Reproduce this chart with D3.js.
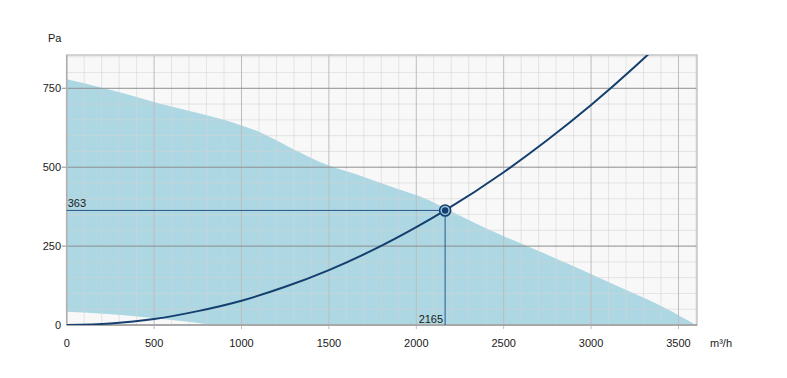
<!DOCTYPE html>
<html><head><meta charset="utf-8">
<script src="https://cdn.jsdelivr.net/npm/d3@7"></script>
<style>body{margin:0;background:#fff}svg{display:block}text{font-family:"Liberation Sans",Arial,sans-serif;font-size:11px;fill:#1a1a1a}</style>
</head><body>
<svg id="c" width="787" height="378"></svg>
<script>
// Data
const xTicks = [0, 500, 1000, 1500, 2000, 2500, 3000, 3500];
const yTicks = [0, 250, 500, 750];
const xUnit = "m³/h";
const yUnit = "Pa";
// Upper boundary of fan working range [Q, Pa]
const upperQ = [0, 100, 270, 530, 750, 950, 1100, 1280, 1500, 1680, 1850, 2080, 2190, 2420, 2710, 2990, 3240, 3420, 3600];
const upperP = [779, 766, 742, 702, 672, 642, 612, 562, 505, 473, 440, 394, 363, 301, 232, 164, 101, 55, 0];
// Lower boundary of working range
const lowerQ = [0, 120, 315, 505, 695, 840];
const lowerP = [42, 39, 32, 21, 10, 0];
// System curve [Q, Pa]
const sysQ = [0, 250, 500, 750, 1000, 1250, 1500, 1750, 2000, 2165, 2500, 2750, 3000, 3250, 3330];
const sysP = [0, 5, 19, 44, 77, 121, 174, 237, 310, 363, 484, 586, 697, 818, 859];
// Operating point
const opQ = 2165, opP = 363;

const svg = d3.select("#c");
const L = 66.7, R = 697, T = 55, B = 325;
const x = d3.scaleLinear().domain([0, 3606]).range([L, R]);
const y = d3.scaleLinear().domain([0, 855.5]).range([B, T]);

svg.append("rect").attr("x", L).attr("y", T).attr("width", R - L).attr("height", B - T).attr("fill", "#f8f8f8");

// area
const upper = upperQ.map((q, i) => [q, upperP[i]]);
const lower = lowerQ.map((q, i) => [q, lowerP[i]]).reverse();
const ln = d3.line().curve(d3.curveMonotoneX).x(d => x(d[0])).y(d => y(d[1]));
const lnR = d3.line().curve(d3.curveLinear).x(d => x(d[0])).y(d => y(d[1]));
svg.append("path")
  .attr("d", ln(upper) + "L" + lnR(lower).slice(1) + "Z")
  .attr("fill", "#add8e3");

// minor grid
const g = svg.append("g");
const xMinor = d3.range(100, 3606, 100).filter(v => v % 500 !== 0);
const yMinor = d3.range(50, 855, 50).filter(v => v % 250 !== 0);
g.selectAll(".xm").data(xMinor).join("line")
  .attr("x1", d => x(d)).attr("x2", d => x(d)).attr("y1", T).attr("y2", B)
  .attr("stroke", "#d4d4d4").attr("stroke-opacity", 0.55).attr("stroke-width", 1);
g.selectAll(".ym").data(yMinor).join("line")
  .attr("x1", L).attr("x2", R).attr("y1", d => y(d)).attr("y2", d => y(d))
  .attr("stroke", "#d4d4d4").attr("stroke-opacity", 0.55).attr("stroke-width", 1);
// major grid
g.selectAll(".xM").data(xTicks.slice(1)).join("line")
  .attr("x1", d => x(d)).attr("x2", d => x(d)).attr("y1", T).attr("y2", B + 4)
  .attr("stroke", "#bdbdbd").attr("stroke-width", 1);
g.selectAll(".yM").data(yTicks.slice(1)).join("line")
  .attr("x1", L - 5).attr("x2", R).attr("y1", d => y(d)).attr("y2", d => y(d))
  .attr("stroke", "#8e8e8e").attr("stroke-width", 1);

// border
svg.append("rect").attr("x", L).attr("y", T).attr("width", R - L).attr("height", B - T)
  .attr("fill", "none").attr("stroke", "#c4c4c4").attr("stroke-width", 1.5);
svg.append("line").attr("x1", L).attr("x2", R).attr("y1", B).attr("y2", B).attr("stroke", "#a8a8a8").attr("stroke-width", 2);
svg.append("line").attr("x1", L).attr("x2", L).attr("y1", T).attr("y2", B).attr("stroke", "#b0b0b0").attr("stroke-width", 1.5);

// axes labels
svg.selectAll(".xl").data(xTicks).join("text")
  .attr("x", d => x(d)).attr("y", 347).attr("text-anchor", "middle").text(d => d);
svg.selectAll(".yl").data(yTicks).join("text")
  .attr("x", 61).attr("y", d => y(d) + 4).attr("text-anchor", "end").text(d => d);
svg.append("text").attr("x", 710).attr("y", 347).text(xUnit);
svg.append("text").attr("x", 48).attr("y", 42).text(yUnit);

// clip
svg.append("clipPath").attr("id", "clp").append("rect")
  .attr("x", L).attr("y", T).attr("width", R - L).attr("height", B - T);

// system curve
const sys = sysQ.map((q, i) => [q, sysP[i]]);
svg.append("path").attr("clip-path", "url(#clp)")
  .attr("d", ln(sys))
  .attr("fill", "none").attr("stroke", "#143f6e").attr("stroke-width", 2);

// operating point lines
const opC = "#2b5788";
svg.append("line").attr("x1", L).attr("x2", x(opQ)).attr("y1", y(opP)).attr("y2", y(opP))
  .attr("stroke", opC).attr("stroke-width", 1);
svg.append("line").attr("x1", x(opQ)).attr("x2", x(opQ)).attr("y1", y(opP)).attr("y2", B)
  .attr("stroke", opC).attr("stroke-width", 1);
svg.append("text").attr("x", L + 1).attr("y", y(opP) - 3).text(opP);
svg.append("text").attr("x", x(opQ) - 2).attr("y", B - 2).attr("text-anchor", "end").text(opQ);
svg.append("circle").attr("cx", x(opQ)).attr("cy", y(opP)).attr("r", 5.5)
  .attr("fill", "#9cc3dc").attr("stroke", "#143f6e").attr("stroke-width", 1.6);
svg.append("circle").attr("cx", x(opQ)).attr("cy", y(opP)).attr("r", 3.2).attr("fill", "#143f6e");
</script>
</body></html>
